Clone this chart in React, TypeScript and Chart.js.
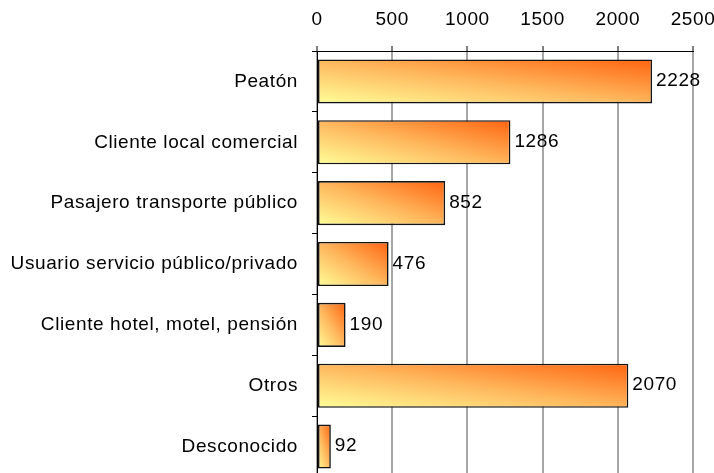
import React, { useEffect, useRef } from 'react';
import { Chart, registerables } from 'chart.js';

Chart.register(...registerables);

// Personas involucradas por tipo
const categories = [
  'Peatón',
  'Cliente local comercial',
  'Pasajero transporte público',
  'Usuario servicio público/privado',
  'Cliente hotel, motel, pensión',
  'Otros',
  'Desconocido',
];
const counts = [2228, 1286, 852, 476, 190, 2070, 92];
const xTicks = [0, 500, 1000, 1500, 2000, 2500];

const FONT = '"Liberation Sans", Arial, Helvetica, sans-serif';
const BAR_FRACTION = 0.724;
const CANVAS_W = 714;
const CANVAS_H = 477;

// Diagonal fill per bar: pale yellow at bottom-left, orange at top-right,
// with iso-lines running parallel to the bar's own diagonal.
function barFill(ctx: any) {
  const fallback = '#FFB45A';
  const chart = ctx.chart;
  const xs = chart.scales?.x;
  const ys = chart.scales?.y;
  if (!xs || !ys || ctx.type !== 'data') return fallback;
  const v = ctx.raw as number;
  const i = ctx.dataIndex as number;
  const x0 = xs.getPixelForValue(0);
  const x1 = xs.getPixelForValue(v);
  const step = (ys.bottom - ys.top) / categories.length;
  const h = step * BAR_FRACTION;
  const yc = ys.getPixelForValue(i);
  const nums = [x0, x1, step, yc];
  if (nums.some((n) => !Number.isFinite(n)) || h <= 0) return fallback;
  const yb = yc + h / 2;
  const w = Math.max(x1 - x0, 1);
  const gx = 1 / (2 * w);
  const gy = -1 / (2 * h);
  const n2 = gx * gx + gy * gy;
  const ex = x0 + gx / n2;
  const ey = yb + gy / n2;
  if (![ex, ey, yb].every(Number.isFinite)) return fallback;
  const g = chart.ctx.createLinearGradient(x0, yb, ex, ey);
  g.addColorStop(0, '#FFFF99');
  g.addColorStop(0.5, '#FFB65C');
  g.addColorStop(1, '#FF6410');
  return g;
}

// Slightly looser letter spacing for all text on the canvas.
const textSpacing = {
  id: 'textSpacing',
  beforeDraw(chart: any) {
    (chart.ctx as any).letterSpacing = '0.6px';
  },
};

const valueLabels = {
  id: 'valueLabels',
  afterDatasetsDraw(chart: any) {
    const c = chart.ctx;
    const meta = chart.getDatasetMeta(0);
    c.save();
    (c as any).letterSpacing = '0.6px';
    c.font = `19px ${FONT}`;
    c.fillStyle = '#000';
    c.textBaseline = 'middle';
    c.textAlign = 'left';
    meta.data.forEach((bar: any, i: number) => {
      c.fillText(String(counts[i]), bar.x + 4, bar.y - 0.5);
    });
    c.restore();
  },
};

export default function App() {
  const canvasRef = useRef<HTMLCanvasElement | null>(null);

  useEffect(() => {
    if (!canvasRef.current) return;
    const chart = new Chart(canvasRef.current, {
      type: 'bar',
      data: {
        labels: categories,
        datasets: [
          {
            data: counts,
            backgroundColor: barFill,
            borderColor: '#141414',
            borderWidth: 1.6,
            borderSkipped: false,
            barPercentage: BAR_FRACTION,
            categoryPercentage: 1,
          },
        ],
      },
      options: {
        animation: false,
        responsive: false,
        maintainAspectRatio: false,
        devicePixelRatio: 1,
        indexAxis: 'y',
        layout: { padding: { top: 0, right: 21, bottom: 0, left: 0 } },
        plugins: {
          legend: { display: false },
          tooltip: { enabled: false },
        },
        scales: {
          x: {
            position: 'top',
            min: 0,
            max: 2500,
            afterBuildTicks: (s: any) => {
              s.ticks = xTicks.map((v) => ({ value: v }));
            },
            afterFit: (s: any) => {
              s.height = 51;
              s.paddingLeft = 0;
              s.paddingRight = 0;
            },
            grid: {
              display: true,
              drawOnChartArea: true,
              drawTicks: true,
              tickLength: 5,
              color: '#a6a6a6',
              lineWidth: 2,
              tickColor: '#000',
              tickWidth: 1,
            },
            border: { display: true, color: '#000', width: 1 },
            ticks: {
              color: '#000',
              font: { family: FONT, size: 19 },
              padding: 15,
              maxRotation: 0,
              callback: (v: any) => String(v),
            },
          },
          y: {
            afterFit: (s: any) => {
              s.width = 317;
              s.paddingTop = 0;
              s.paddingBottom = 0;
            },
            grid: {
              display: true,
              drawOnChartArea: false,
              drawTicks: true,
              tickLength: 5,
              offset: true,
              color: '#000',
              tickColor: '#000',
              lineWidth: 1,
            },
            border: { display: true, color: '#000', width: 1 },
            ticks: {
              color: '#000',
              font: { family: FONT, size: 19 },
              padding: 14,
              autoSkip: false,
            },
          },
        },
      },
      plugins: [textSpacing, valueLabels],
    } as any);
    return () => chart.destroy();
  }, []);

  return (
    <div
      style={{
        position: 'fixed',
        top: 0,
        left: 0,
        width: 714,
        height: 473,
        overflow: 'hidden',
        background: '#fff',
      }}
    >
      <canvas
        ref={canvasRef}
        width={CANVAS_W}
        height={CANVAS_H}
        style={{ display: 'block', width: CANVAS_W, height: CANVAS_H }}
      />
    </div>
  );
}
